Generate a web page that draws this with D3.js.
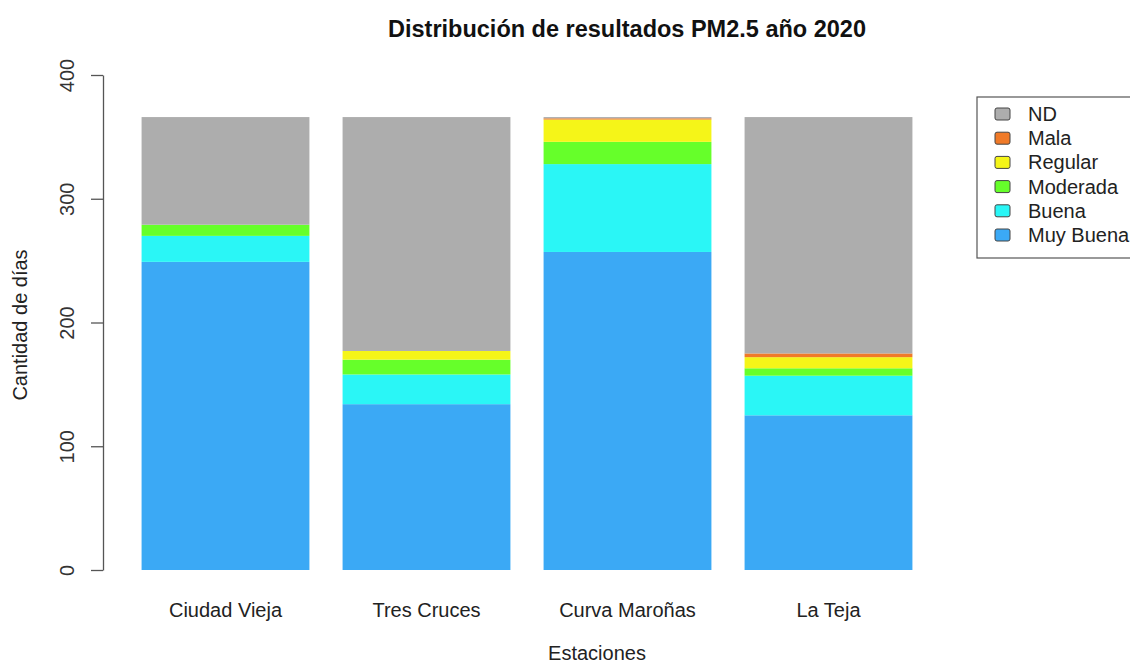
<!DOCTYPE html>
<html>
<head>
<meta charset="utf-8">
<script src="https://cdn.jsdelivr.net/npm/d3@7"></script>
<style>
  html, body { margin: 0; padding: 0; background: #fff; }
  svg { display: block; font-family: "Liberation Sans", Arial, Helvetica, sans-serif; }
</style>
</head>
<body>
<svg id="chart" width="1130" height="664"></svg>
<script>
// Days per air-quality category, PM2.5, 2020 (366 days per station)
const stations = ["Ciudad Vieja", "Tres Cruces", "Curva Maroñas", "La Teja"];
const muyBuena = [249, 134, 257, 125];
const buena    = [21, 24, 71, 32];
const moderada = [9, 12, 18, 6];
const regular  = [0, 7, 18, 9];
const mala     = [0, 0, 1, 3];
const nd       = [87, 189, 1, 191];

// Stack order bottom to top
const categories = ["Muy Buena", "Buena", "Moderada", "Regular", "Mala", "ND"];
const seriesValues = [muyBuena, buena, moderada, regular, mala, nd];
const colors = ["#3ba9f5", "#2af6f6", "#66ff2a", "#f5f518", "#f07a28", "#adadad"];
const yTicks = [0, 100, 200, 300, 400];

const rows = stations.map((s, i) => {
  const r = { station: s };
  categories.forEach((c, k) => { r[c] = seriesValues[k][i]; });
  return r;
});

const svg = d3.select("#chart");
const fontSize = "20px";

const x = d3.scaleBand()
  .domain(stations)
  .range([125, 929])
  .paddingInner(0.165)
  .paddingOuter(0.0825);

const y = d3.scaleLinear().domain([0, 400]).range([570, 75]);

const color = d3.scaleOrdinal().domain(categories).range(colors);

const stacked = d3.stack().keys(categories)(rows);

// Bars
svg.append("g")
  .selectAll("g")
  .data(stacked)
  .join("g")
  .attr("fill", d => color(d.key))
  .selectAll("rect")
  .data(d => d)
  .join("rect")
  .attr("x", d => x(d.data.station))
  .attr("width", x.bandwidth())
  .attr("y", d => y(d[1]))
  .attr("height", d => y(d[0]) - y(d[1]));

// Y axis
const yAxis = svg.append("g")
  .attr("transform", "translate(103,0)")
  .call(d3.axisLeft(y).tickValues(yTicks).tickSize(12).tickSizeOuter(0).tickFormat(d3.format("d")));
yAxis.select(".domain").attr("stroke", "#555").attr("stroke-width", 1.3);
yAxis.selectAll(".tick line").attr("stroke", "#555").attr("stroke-width", 1.3);
yAxis.selectAll(".tick text")
  .attr("x", 0).attr("y", 0).attr("dy", "0.35em")
  .attr("transform", "translate(-36,0) rotate(-90)")
  .attr("text-anchor", "middle")
  .attr("fill", "#333")
  .style("font-size", fontSize);

// Category labels
svg.append("g")
  .selectAll("text")
  .data(stations)
  .join("text")
  .attr("x", d => x(d) + x.bandwidth() / 2)
  .attr("y", 617)
  .attr("text-anchor", "middle")
  .attr("fill", "#222")
  .style("font-size", fontSize)
  .text(d => d);

// Title and axis titles
svg.append("text")
  .attr("x", 627).attr("y", 37)
  .attr("text-anchor", "middle")
  .attr("fill", "#111")
  .style("font-size", "23.5px").style("font-weight", "bold")
  .text("Distribución de resultados PM2.5 año 2020");

svg.append("text")
  .attr("x", 597).attr("y", 660)
  .attr("text-anchor", "middle")
  .attr("fill", "#222")
  .style("font-size", fontSize)
  .text("Estaciones");

svg.append("text")
  .attr("transform", "translate(27,325) rotate(-90)")
  .attr("text-anchor", "middle")
  .attr("fill", "#222")
  .style("font-size", fontSize)
  .text("Cantidad de días");

// Legend (top of stack first)
const legendItems = categories.slice().reverse();
const legend = svg.append("g").attr("transform", "translate(977,97)");
legend.append("rect")
  .attr("width", 170).attr("height", 161)
  .attr("fill", "#fff").attr("stroke", "#555").attr("stroke-width", 1.2);
const item = legend.selectAll("g.item")
  .data(legendItems)
  .join("g")
  .attr("class", "item")
  .attr("transform", (d, i) => `translate(0,${17 + i * 24.2})`);
item.append("rect")
  .attr("x", 18).attr("y", -6)
  .attr("width", 15).attr("height", 12)
  .attr("rx", 2)
  .attr("fill", d => color(d))
  .attr("stroke", "#444").attr("stroke-width", 1);
item.append("text")
  .attr("x", 51).attr("y", 0).attr("dy", "0.35em")
  .attr("fill", "#222")
  .style("font-size", fontSize)
  .text(d => d);
</script>
</body>
</html>
